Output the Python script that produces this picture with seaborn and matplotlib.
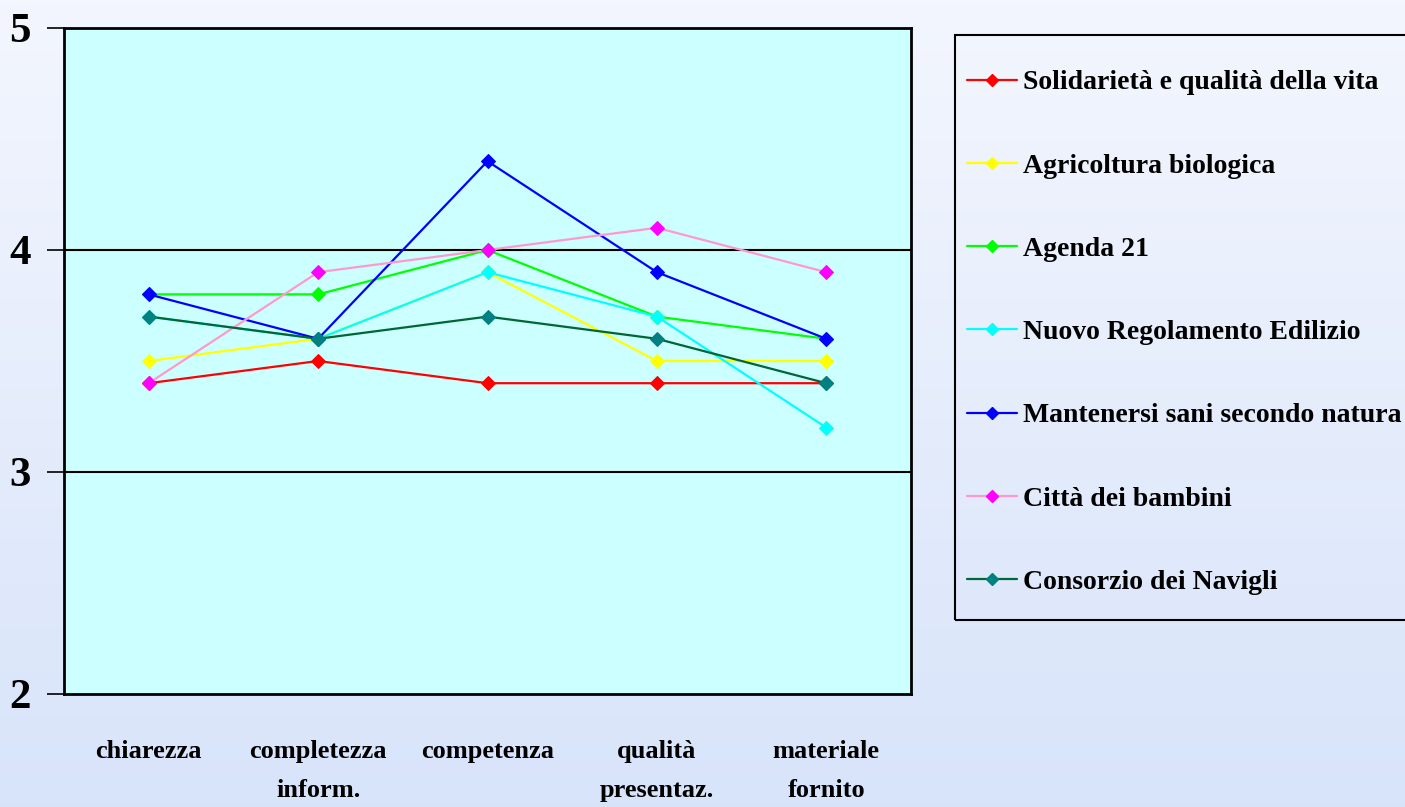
import numpy as np
import pandas as pd
import matplotlib
matplotlib.use("Agg")
import matplotlib.pyplot as plt
from matplotlib.lines import Line2D
from matplotlib.patches import Rectangle
import seaborn as sns

categories = ["chiarezza", "completezza\ninform.", "competenza", "qualità\npresentaz.", "materiale\nfornito"]

series_names = [
    "Solidarietà e qualità della vita",
    "Agricoltura biologica",
    "Agenda 21",
    "Nuovo Regolamento Edilizio",
    "Mantenersi sani secondo natura",
    "Città dei bambini",
    "Consorzio dei Navigli",
]

solidarieta = [3.4, 3.5, 3.4, 3.4, 3.4]
agricoltura = [3.5, 3.6, 3.9, 3.5, 3.5]
agenda21 = [3.8, 3.8, 4.0, 3.7, 3.6]
regolamento = [3.7, 3.6, 3.9, 3.7, 3.2]
mantenersi = [3.8, 3.6, 4.4, 3.9, 3.6]
citta = [3.4, 3.9, 4.0, 4.1, 3.9]
navigli = [3.7, 3.6, 3.7, 3.6, 3.4]

y_ticks = [2, 3, 4, 5]

values = [solidarieta, agricoltura, agenda21, regolamento, mantenersi, citta, navigli]
line_colors = ["#FF0000", "#FFFF00", "#00FF00", "#00FFFF", "#0000FF", "#FF99CC", "#006633"]
marker_colors = ["#FF0000", "#FFFF00", "#00FF00", "#00FFFF", "#0000FF", "#FF00FF", "#008080"]

sns.set_style("white")
plt.rcParams["font.family"] = ["Liberation Serif", "DejaVu Serif"]
plt.rcParams["font.weight"] = "bold"
plt.rcParams["text.color"] = "black"
plt.rcParams["xtick.color"] = "black"
plt.rcParams["ytick.color"] = "black"

W, H = 1405, 807
fig = plt.figure(figsize=(W / 100, H / 100), dpi=100)

# soft vertical gradient behind everything
bg = fig.add_axes([0, 0, 1, 1], zorder=-10)
grad = np.linspace(0, 1, 256).reshape(-1, 1)
top = np.array([0.953, 0.965, 0.996])
bottom = np.array([0.847, 0.894, 0.980])
img = top + (bottom - top) * grad[:, :, None]
bg.imshow(img, aspect="auto", extent=[0, 1, 0, 1], origin="upper")
bg.axis("off")

ax = fig.add_axes([64 / W, 1 - 694 / H, (911 - 64) / W, (694 - 28) / H])
ax.set_facecolor("#CCFFFF")

x = np.arange(len(categories))
for name, vals, lc, mc in zip(series_names, values, line_colors, marker_colors):
    df = pd.DataFrame({"x": x, "y": vals})
    sns.lineplot(data=df, x="x", y="y", ax=ax, color=lc, linewidth=1.6,
                 marker="D", markersize=7, markerfacecolor=mc,
                 markeredgecolor=mc, legend=False)

ax.set_xlim(-0.5, len(categories) - 0.5)
ax.set_ylim(2, 5)
ax.set_yticks(y_ticks)
ax.set_yticklabels([str(t) for t in y_ticks], fontsize=31, fontweight="bold", color="black")
ax.set_xticks(x)
ax.set_xticklabels(categories, fontsize=19, fontweight="bold", linespacing=1.9, color="black")
ax.set_xticks(np.arange(-0.5, len(categories)), minor=True)
ax.tick_params(axis="x", which="major", length=0, pad=33)
ax.tick_params(axis="x", which="minor", length=12, width=1.2, color="black", direction="out")
ax.tick_params(axis="y", which="major", length=12, width=1.2, color="black",
               direction="out", left=True, pad=12)
ax.set_xlabel("")
ax.set_ylabel("")

for yv in [3, 4]:
    ax.axhline(yv, color="black", linewidth=1.5, zorder=0.5)

for side in ["top", "bottom", "left", "right"]:
    ax.spines[side].set_visible(True)
    ax.spines[side].set_color("black")
    ax.spines[side].set_linewidth(2)

# legend frame
fig.patches.append(Rectangle((955 / W, 1 - 620 / H), 0.4, (620 - 35) / H,
                             transform=fig.transFigure, fill=False,
                             edgecolor="black", linewidth=1.5, zorder=1))

handles = [
    Line2D([0], [0], color=lc, linewidth=1.6, marker="D", markersize=6,
           markerfacecolor=mc, markeredgecolor=mc)
    for lc, mc in zip(line_colors, marker_colors)
]
leg = fig.legend(handles, series_names, loc="upper left",
                 bbox_to_anchor=(967 / W, 1 - 70 / H), frameon=False,
                 prop={"family": "Liberation Serif", "weight": "bold", "size": 20},
                 labelspacing=2.08, handlelength=1.8, handletextpad=0.2,
                 borderpad=0, borderaxespad=0)
for t in leg.get_texts():
    t.set_color("black")

fig.savefig("out.png", dpi=100)
